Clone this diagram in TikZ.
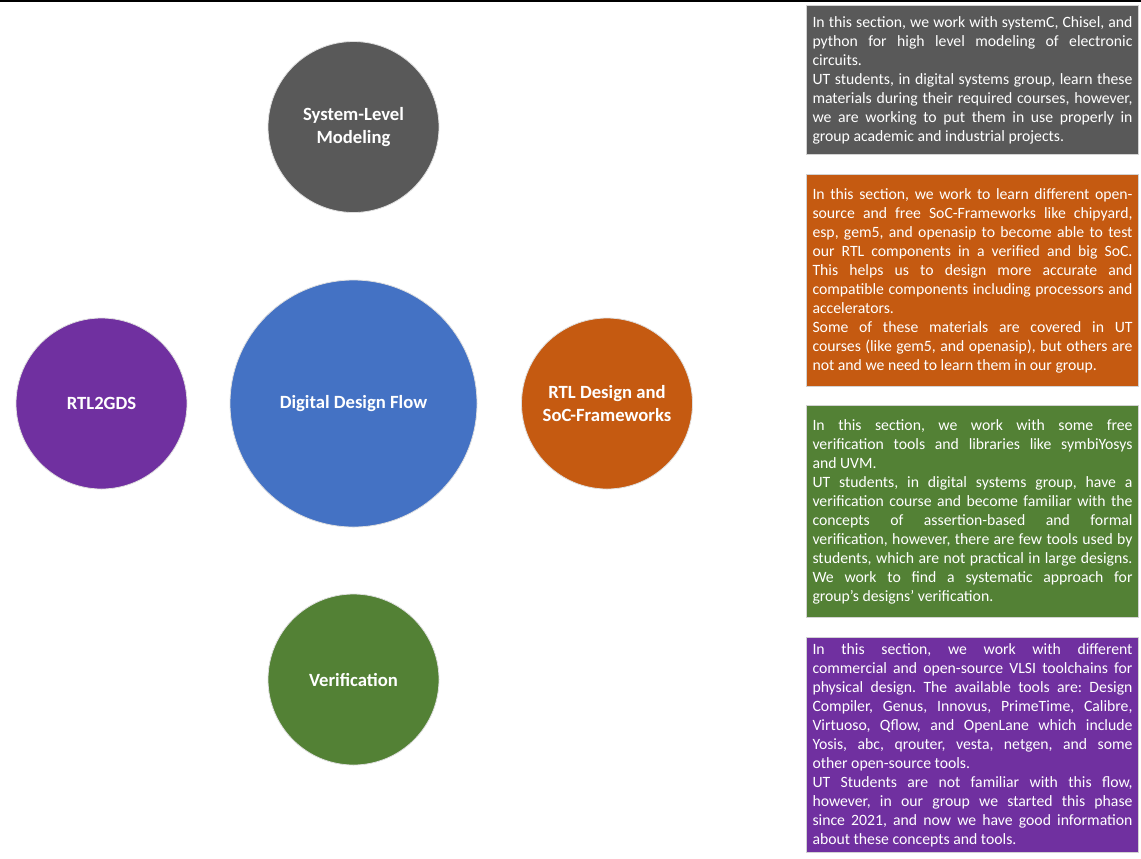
\documentclass[tikz,border=0pt]{standalone}
\usepackage{fontspec}
\setmainfont{Carlito}
\usepackage{xcolor}
\definecolor{slmgray}{HTML}{595959}
\definecolor{flowblue}{HTML}{4472C4}
\definecolor{rtlorange}{HTML}{C55A11}
\definecolor{gdspurple}{HTML}{7030A0}
\definecolor{verifgreen}{HTML}{538135}
\hyphenpenalty=10000
\exhyphenpenalty=10000
\frenchspacing

\begin{document}
\begin{tikzpicture}[x=0.75pt,y=-0.75pt,
bubble/.style={circle, draw=gray!25, line width=0.6pt, text=white, align=center, inner sep=0pt,
  minimum size=128.25pt, font=\bfseries\fontsize{14}{17.5}\selectfont},
note/.style={rectangle, draw=gray!35, line width=0.75pt, text=white, anchor=north west,
  text width=240pt, align=justify, inner sep=4.5pt, font=\fontsize{11.8}{14.25}\selectfont}]
\useasboundingbox (0,0) rectangle (1141,858);
\draw[line width=1.5pt] (0,0.8) -- (1141,0.8);

\node (Flow) [bubble, fill=flowblue, minimum size=185.25pt] at (353.5,403.5) {Digital Design Flow};
\node (SysLevel) [bubble, fill=slmgray] at (353.5,127) {System-Level\\Modeling};
\node (RtlSoc) [bubble, fill=rtlorange] at (607,403.5) {RTL Design and\\SoC-Frameworks};
\node (Gds) [bubble, fill=gdspurple] at (101.5,403.5) {RTL2GDS};
\node (Verif) [bubble, fill=verifgreen] at (353.5,679.5) {Verification};

\node (SysNote) [note, fill=slmgray, minimum height=111.75pt] at (806,5) {In this section, we work with systemC, Chisel, and\linebreak python for high level modeling of electronic\linebreak circuits.\par
UT students, in digital systems group, learn these\linebreak materials during their required courses, however,\linebreak we are working to put them in use properly in\linebreak group academic and industrial projects.};

\node (RtlNote) [note, fill=rtlorange, minimum height=159pt] at (806,174) {In this section, we work to learn different open-\linebreak source and free SoC-Frameworks like chipyard,\linebreak esp, gem5, and openasip to become able to test\linebreak our RTL components in a verified and big SoC.\linebreak This helps us to design more accurate and\linebreak compatible components including processors and\linebreak accelerators.\par
Some of these materials are covered in UT\linebreak courses (like gem5, and openasip), but others are\linebreak not and we need to learn them in our group.};

\node (VerifNote) [note, fill=verifgreen, minimum height=159pt] at (806,405) {In this section, we work with some free\linebreak verification tools and libraries like symbiYosys\linebreak and UVM.\par
UT students, in digital systems group, have a\linebreak verification course and become familiar with the\linebreak concepts of assertion-based and formal\linebreak verification, however, there are few tools used by\linebreak students, which are not practical in large designs.\linebreak We work to find a systematic approach for\linebreak group’s designs’ verification.};

\node (GdsNote) [note, fill=gdspurple, minimum height=160.5pt] at (806,637) {In this section, we work with different\linebreak commercial and open-source VLSI toolchains for\linebreak physical design. The available tools are: Design\linebreak Compiler, Genus, Innovus, PrimeTime, Calibre,\linebreak Virtuoso, Qflow, and OpenLane which include\linebreak Yosis, abc, qrouter, vesta, netgen, and some\linebreak other open-source tools.\par
UT Students are not familiar with this flow,\linebreak however, in our group we started this phase\linebreak since 2021, and now we have good information\linebreak about these concepts and tools.};

\end{tikzpicture}
\end{document}
